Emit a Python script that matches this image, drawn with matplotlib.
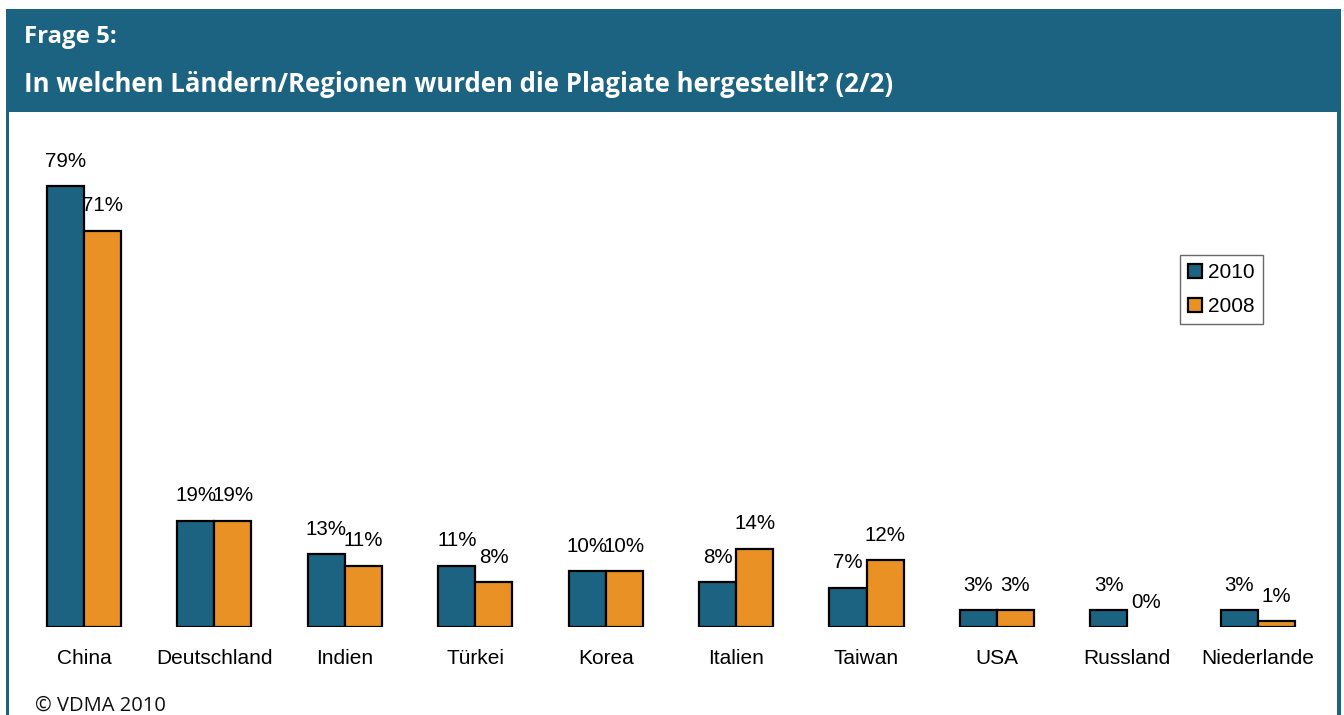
import matplotlib
matplotlib.use("Agg")
import matplotlib.pyplot as plt
from matplotlib.patches import Rectangle, Patch
import numpy as np

categories = ["China", "Deutschland", "Indien", "Türkei", "Korea", "Italien",
              "Taiwan", "USA", "Russland", "Niederlande"]
values_2010 = [79, 19, 13, 11, 10, 8, 7, 3, 3, 3]
values_2008 = [71, 19, 11, 8, 10, 14, 12, 3, 0, 1]
labels_2010 = ["79%", "19%", "13%", "11%", "10%", "8%", "7%", "3%", "3%", "3%"]
labels_2008 = ["71%", "19%", "11%", "8%", "10%", "14%", "12%", "3%", "0%", "1%"]
series_names = ["2010", "2008"]

TEAL = "#1b6380"
ORANGE = "#ea9125"
W, H = 1344, 715

fig = plt.figure(figsize=(W / 100, H / 100), dpi=100)
fig.patch.set_facecolor("white")

def px_rect(x0, y0, x1, y1, **kw):
    return Rectangle((x0 / W, 1 - y1 / H), (x1 - x0) / W, (y1 - y0) / H,
                     transform=fig.transFigure, **kw)

# frame
fig.patches.append(px_rect(6, 9, 1341, 716, facecolor=TEAL, edgecolor="none", zorder=0))
fig.patches.append(px_rect(9, 112, 1337, 716, facecolor="white", edgecolor="none", zorder=0))

fig.text(24 / W, 1 - 37 / H, "Frage 5:", color="white", fontsize=17.3,
         fontweight="bold", family="Open Sans", va="center", ha="left")
fig.text(24 / W, 1 - 84 / H, "In welchen Ländern/Regionen wurden die Plagiate hergestellt? (2/2)",
         color="white", fontsize=18.5, fontweight="bold", family="Open Sans",
         va="center", ha="left")
fig.text(35 / W, 1 - 706 / H, "© VDMA 2010", color="#111111", fontsize=14.5,
         family="Open Sans", va="center", ha="left")

# axes
x_left, x_right = 18.8, 1323.0
y_base = 627.0
ymax = 85
y_top = y_base - ymax * 5.58
ax = fig.add_axes([x_left / W, 1 - y_base / H, (x_right - x_left) / W, (y_base - y_top) / H])
ax.set_zorder(5)
ax.set_xlim(-0.5, len(categories) - 0.5)
ax.set_ylim(0, ymax)
ax.patch.set_alpha(0)
for s in ax.spines.values():
    s.set_visible(False)
ax.set_yticks([])

x = np.arange(len(categories))
bw = 0.284
bars1 = ax.bar(x - bw / 2, values_2010, bw, color=TEAL, edgecolor="black", linewidth=1.6,
               label=series_names[0], zorder=3)
bars2 = ax.bar(x + bw / 2, values_2008, bw, color=ORANGE, edgecolor="black", linewidth=1.6,
               label=series_names[1], zorder=3)
for b, v in list(zip(bars1, values_2010)) + list(zip(bars2, values_2008)):
    if v == 0:
        b.set_linewidth(0)

for xi, v, lab in zip(x - bw / 2, values_2010, labels_2010):
    ax.annotate(lab, (xi, v), xytext=(0, 18), textcoords="offset points",
                ha="center", va="center", fontsize=14.8, family="Liberation Sans")
for xi, v, lab in zip(x + bw / 2, values_2008, labels_2008):
    ax.annotate(lab, (xi, v), xytext=(0, 18), textcoords="offset points",
                ha="center", va="center", fontsize=14.8, family="Liberation Sans")

ax.set_xticks(x)
ax.set_xticklabels(categories, fontsize=15, family="Liberation Sans")
ax.tick_params(axis="x", length=0, pad=15.5)

handles = [Patch(facecolor=TEAL, edgecolor="black", linewidth=1.6),
           Patch(facecolor=ORANGE, edgecolor="black", linewidth=1.6)]
leg = fig.legend(handles, series_names, loc="upper left",
                 bbox_to_anchor=(1180 / W, 1 - 255 / H),
                 prop={"family": "Liberation Sans", "size": 15},
                 frameon=True, fancybox=False, edgecolor="#444444",
                 handlelength=0.65, handleheight=0.65, handletextpad=0.3,
                 borderpad=0.4, labelspacing=0.7, borderaxespad=0)
leg.get_frame().set_linewidth(1.0)
leg.set_zorder(6)

fig.savefig("out.png", dpi=100)
